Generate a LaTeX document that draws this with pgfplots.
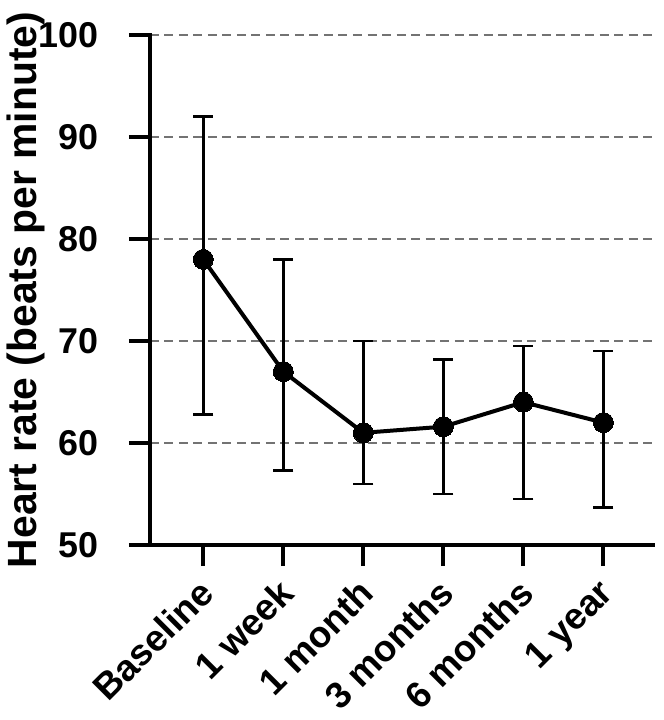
\documentclass[border=0pt]{standalone}
\usepackage{fontspec}
\setmainfont{Liberation Sans}
\usepackage{pgfplots}
\pgfplotsset{compat=1.18}
\pgfplotstableread{
x y ep em
0 78.0 14.0 15.2
1 67.0 11.0 9.7
2 61.0 9.0 5.0
3 61.6 6.6 6.6
4 64.0 5.5 9.5
5 62.0 7.0 8.3
}\hrdata
\begin{document}
\begin{tikzpicture}
\begin{axis}[
  name=ax,
  scale only axis,
  width=503bp, height=510bp,
  xmin=-0.666, xmax=5.62,
  ymin=50, ymax=100,
  clip=false,
  axis lines=left,
  axis line style={line width=4.5bp, -, line cap=rect},
  tick align=outside,
  major tick length=21bp,
  tick style={line width=4bp, black},
  ytick={50,60,...,100},
  xtick={0,...,5},
  xticklabels={Baseline,1 week,1 month,3 months,6 months,1 year},
  ymajorgrids,
  grid style={dashed, dash pattern=on 9bp off 5.5bp, line width=2bp, black!55},
  tick label style={font=\fontsize{36}{40}\selectfont\bfseries},
  /pgf/number format/assume math mode=true,
  yticklabel style={inner sep=0pt, xshift=-30bp},
  xticklabel style={font=\fontsize{37}{40}\selectfont\bfseries, rotate=45, anchor=north east, inner sep=0pt, yshift=-3bp, xshift=-12bp},
  ylabel={Heart rate (beats per minute)},
  ylabel style={font=\fontsize{41}{44}\selectfont\bfseries, yshift=-6bp, inner sep=0pt},
]
\addplot[black, line width=4bp, mark=*, mark size=10bp,
  mark options={fill=black, line width=0pt},
  error bars/.cd, y dir=both, y explicit,
  error bar style={line width=2.5bp, black},
  error mark options={rotate=90, mark size=10bp, line width=2.5bp, black}]
  table[x=x, y=y, y error plus=ep, y error minus=em] {\hrdata};
\end{axis}
\pgfresetboundingbox
\path ([shift={(-150bp,-175bp)}]ax.south west) rectangle ([shift={(514bp,545bp)}]ax.south west);
\end{tikzpicture}
\end{document}
